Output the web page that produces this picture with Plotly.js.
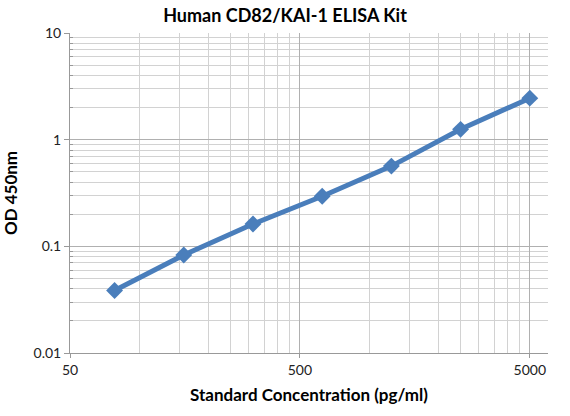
<!DOCTYPE html>
<html>
<head>
<meta charset="utf-8">
<script src="https://cdn.plot.ly/plotly-3.0.1.min.js"></script>
<style>
  html, body { margin: 0; padding: 0; background: #fff; }
  #plot { width: 570px; height: 416px; }
</style>
</head>
<body>
<div id="plot"></div>
<script>
// standard curve
var concentration = [78.125, 156.25, 312.5, 625, 1250, 2500, 5000];
var od450 = [0.0385, 0.083, 0.162, 0.295, 0.565, 1.25, 2.45];

var xMajor = [50, 500, 5000];
var xMajorText = ["50", "500", "5000"];
var yMajor = [0.01, 0.1, 1, 10];
var yMajorText = ["0.01", "0.1", "1", "10"];

// minor gridlines: multiples inside each decade
var xMinor = [];
[50, 500].forEach(function(base) {
    for (var k = 2; k <= 9; k++) xMinor.push(base * k);
});
xMinor.push(6000);
var yMinor = [];
[0.01, 0.1, 1].forEach(function(base) {
    for (var k = 2; k <= 9; k++) yMinor.push(base * k);
});

var blue = "#4a7ebb";

var trace = {
    x: concentration,
    y: od450,
    type: "scatter",
    mode: "lines+markers",
    line: { color: blue, width: 5 },
    marker: { symbol: "diamond", size: 13, color: blue },
    hoverinfo: "x+y"
};

var layout = {
    width: 570,
    height: 416,
    margin: { l: 70, r: 22, t: 33, b: 63 },
    paper_bgcolor: "#fff",
    plot_bgcolor: "#fff",
    showlegend: false,
    font: { family: "Lato, 'Open Sans', sans-serif", size: 14, color: "#222" },
    title: {
        text: "<b>Human CD82/KAI-1 ELISA Kit</b>",
        font: { size: 18, color: "#000" },
        x: 0.5,
        xanchor: "center",
        y: 0.978,
        yanchor: "top"
    },
    xaxis: {
        type: "log",
        range: [Math.log10(50), Math.log10(6000)],
        tickmode: "array",
        tickvals: xMajor,
        ticktext: xMajorText,
        ticks: "outside",
        ticklen: 4,
        tickcolor: "#999",
        showgrid: true,
        gridcolor: "#b0b0b0",
        gridwidth: 1,
        showline: true,
        linecolor: "#999",
        linewidth: 1,
        zeroline: false,
        tickfont: { size: 14, color: "#222" },
        minor: {
            tickmode: "array",
            tickvals: xMinor,
            showgrid: true,
            gridcolor: "#d2d2d2",
            gridwidth: 1,
            ticks: ""
        },
        title: {
            text: "<b>Standard Concentration (pg/ml)</b>",
            font: { size: 17, color: "#000" },
            standoff: 12
        }
    },
    yaxis: {
        type: "log",
        range: [-2, 1],
        tickmode: "array",
        tickvals: yMajor,
        ticktext: yMajorText,
        ticks: "outside",
        ticklen: 5,
        tickcolor: "#999",
        showgrid: true,
        gridcolor: "#b0b0b0",
        gridwidth: 1,
        showline: true,
        linecolor: "#999",
        linewidth: 1,
        zeroline: false,
        tickfont: { size: 14, color: "#222" },
        minor: {
            tickmode: "array",
            tickvals: yMinor,
            showgrid: true,
            gridcolor: "#d2d2d2",
            gridwidth: 1,
            ticks: "inside",
            ticklen: 3,
            tickcolor: "#999"
        },
        title: {
            text: "<b>OD 450nm</b>",
            font: { size: 17, color: "#000" },
            standoff: 12
        }
    }
};

Plotly.newPlot("plot", [trace], layout, { displayModeBar: false, staticPlot: true });
</script>
</body>
</html>
